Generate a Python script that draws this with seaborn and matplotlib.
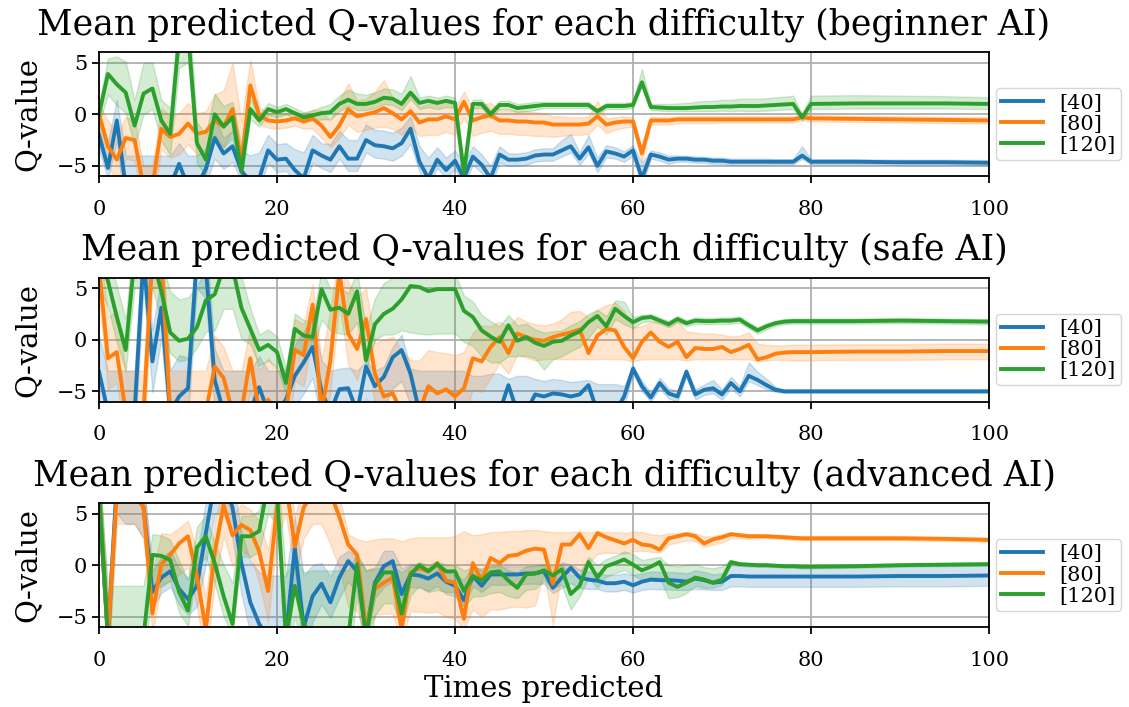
import matplotlib
matplotlib.use("Agg")
import matplotlib.pyplot as plt
import numpy as np
import pandas as pd
import seaborn as sns

# ---------------- data ----------------
X = list(range(0, 81)) + [85, 90, 95, 100]
labels = ["[40]", "[80]", "[120]"]
titles = [
    "Mean predicted Q-values for each difficulty (beginner AI)",
    "Mean predicted Q-values for each difficulty (safe AI)",
    "Mean predicted Q-values for each difficulty (advanced AI)",
]

# ----- beginner -----
b1 = [-2.0, -5.2, -0.6, -7, -7, -7, -7, -7, -7, -4.8,
      -7, -7, -5.3, -2.3, -3.8, -3.1, -5.5, -6.5, -6.2, -3.5,
      -4.4, -4.3, -5.4, -6.2, -3.5, -4.0, -4.4, -3.1, -4.3, -4.3,
      -2.5, -3.0, -3.1, -3.3, -2.8, -1.4, -4.6, -6.2, -4.4, -5.4,
      -4.5, -6.2, -4.1, -4.9, -6.2, -3.9, -4.4, -4.4, -4.3, -4.0,
      -3.9, -3.9, -3.5, -3.1, -4.3, -3.2, -5.0, -3.6, -3.8, -4.1,
      -3.5, -6.2, -3.9, -4.1, -4.4, -4.3, -4.3, -4.4, -4.4, -4.5,
      -4.5, -4.6, -4.6, -4.6, -4.6, -4.6, -4.6, -4.6, -4.6, -4.0,
      -4.6, -4.6, -4.65, -4.65, -4.7]
b1_dn = [1.5, 1.0, 2.0, 3, 3, 3, 3, 3, 3, 1.5,
         3, 3, 1.5, 2.0, 1.5, 1.5, 1.0, 1.0, 1.0, 1.2,
         1.2, 1.2, 1.0, 1.0, 1.2, 1.2, 1.2, 1.2, 1.2, 1.2,
         1.2, 1.2, 1.2, 1.2, 1.2, 1.5, 1.0, 0.8, 0.8, 0.8,
         0.8, 0.8, 0.8, 0.8, 0.8, 0.8, 0.6, 0.6, 0.6, 0.6,
         0.6, 0.6, 0.6, 0.6, 0.6, 0.6, 0.6, 0.6, 0.5, 0.5,
         0.5, 0.8, 0.4, 0.4, 0.4, 0.3, 0.3, 0.3, 0.3, 0.3,
         0.3, 0.3, 0.3, 0.3, 0.3, 0.3, 0.25, 0.25, 0.25, 0.3,
         0.25, 0.25, 0.25, 0.25, 0.25]
b1_up = [2.0, 2.5, 2.0, 3, 3, 3, 3, 3, 3, 2.0,
         3, 3, 2.0, 2.0, 1.5, 1.5, 2.0, 2.5, 2.5, 1.5,
         1.5, 1.5, 2.0, 2.5, 1.5, 1.2, 1.5, 1.5, 1.8, 1.8,
         1.5, 1.5, 1.5, 1.5, 1.5, 1.2, 1.5, 2.0, 1.2, 1.2,
         1.0, 1.5, 1.0, 1.0, 1.2, 0.8, 0.6, 0.6, 0.6, 0.6,
         0.6, 0.6, 1.0, 1.2, 0.6, 1.2, 0.8, 0.6, 0.6, 0.5,
         0.5, 1.5, 0.4, 0.4, 0.4, 0.3, 0.3, 0.3, 0.3, 0.3,
         0.3, 0.3, 0.3, 0.3, 0.3, 0.3, 0.25, 0.25, 0.25, 0.9,
         0.25, 0.25, 0.25, 0.25, 0.25]

o1 = [0.0, -3.1, -4.4, -2.3, -2.5, -7, -7, -1.4, -2.2, -1.9,
      -0.9, -1.9, -1.7, -0.6, -1.2, 0.5, -4.7, 2.8, -0.1, -0.6,
      -0.7, -0.6, -0.4, -0.7, -0.4, -1.1, -2.2, -1.1, 0.5, -0.2,
      0.0, 0.2, 0.6, 0.1, -0.5, 0.3, -0.8, -0.5, -0.5, -0.2,
      -0.5, 1.2, -0.6, -0.3, -0.1, -0.6, -0.6, -0.7, -0.7, -0.8,
      -0.8, -1.0, -1.0, -1.0, -1.0, -0.9, -0.2, -1.0, -0.8, -0.7,
      -0.7, -3.8, -0.6, -0.6, -0.6, -0.5, -0.5, -0.5, -0.5, -0.5,
      -0.5, -0.5, -0.5, -0.5, -0.5, -0.5, -0.5, -0.5, -0.5, -0.3,
      -0.4, -0.45, -0.5, -0.55, -0.6]
o1_dn = [1.5, 2, 2, 2, 2, 2, 2, 2, 2, 2,
         2, 2, 2, 2, 2, 2, 1.5, 1.0, 0.8, 0.7,
         0.7, 0.7, 0.7, 0.7, 1.0, 1.2, 1.0, 1.2, 1.5, 1.5,
         1.5, 1.5, 1.8, 1.5, 1.5, 1.5, 1.3, 1.5, 1.5, 1.5,
         1.5, 1.5, 1.5, 1.5, 1.5, 1.3, 1.3, 1.3, 1.3, 1.3,
         1.3, 1.2, 1.1, 1.0, 1.0, 1.0, 0.8, 0.8, 0.7, 0.6,
         0.5, 0.8, 0.4, 0.4, 0.4, 0.4, 0.35, 0.35, 0.35, 0.35,
         0.3, 0.3, 0.3, 0.3, 0.3, 0.3, 0.3, 0.3, 0.3, 0.3,
         0.3, 0.3, 0.3, 0.3, 0.3]
o1_up = [1.0, 2.5, 2.5, 2.0, 2.0, 2.0, 2.0, 2.0, 2.0, 2.0,
         2.0, 2.0, 2.0, 2.5, 3.5, 4.5, 4.0, 2.5, 0.8, 0.7,
         0.7, 0.7, 0.7, 0.7, 0.8, 1.5, 1.5, 2.5, 2.5, 1.5,
         1.5, 2.0, 2.7, 1.5, 1.5, 1.5, 1.5, 1.5, 1.5, 1.5,
         1.2, 1.0, 1.2, 1.2, 1.2, 1.0, 1.0, 1.0, 1.0, 1.0,
         0.9, 0.8, 0.8, 0.7, 0.7, 0.7, 1.5, 0.6, 0.5, 0.5,
         0.4, 0.5, 0.35, 0.35, 0.35, 0.3, 0.3, 0.3, 0.3, 0.3,
         0.3, 0.3, 0.3, 0.3, 0.3, 0.3, 0.3, 0.3, 0.3, 0.3,
         0.3, 0.3, 0.3, 0.3, 0.3]

g1 = [0.0, 3.9, 2.9, 2.1, -1.1, 2.0, 2.5, -0.6, -1.9, 7.5,
      8, -2.8, -4.4, 0.0, -1.2, -0.3, -5.5, 0.5, -0.6, 0.5,
      0.2, 0.5, 0.1, -0.3, -0.1, 0.1, 0.2, 1.0, 1.4, 1.0,
      1.0, 1.2, 1.6, 1.5, 1.0, 2.1, 1.1, 1.3, 1.1, 1.3,
      1.1, -5.7, 1.0, 1.0, 0.0, 0.9, 0.9, 0.6, 0.7, 0.8,
      0.9, 0.9, 0.9, 0.9, 0.9, 0.9, 0.3, 0.8, 0.8, 0.8,
      0.9, 3.1, 0.7, 0.65, 0.6, 0.6, 0.6, 0.65, 0.7, 0.7,
      0.75, 0.75, 0.8, 0.8, 0.8, 0.85, 0.9, 0.95, 1.0, -0.3,
      1.0, 1.05, 1.05, 1.05, 1.0]
g1_dn = [1.0, 2.0, 2.0, 2.0, 2.0, 2.0, 2.0, 2.0, 2.0, 3,
         3, 2.0, 1.5, 2.0, 2.0, 2.0, 1.0, 1.0, 0.6, 0.6,
         0.5, 0.5, 0.5, 0.5, 0.5, 0.6, 0.7, 0.7, 0.6, 0.6,
         0.6, 0.6, 0.6, 0.6, 0.6, 0.6, 0.6, 0.6, 0.6, 0.6,
         0.5, 1.0, 0.4, 0.4, 0.4, 0.4, 0.4, 0.4, 0.4, 0.4,
         0.3, 0.3, 0.3, 0.3, 0.3, 0.3, 0.2, 0.3, 0.3, 0.3,
         0.3, 0.4, 0.3, 0.3, 0.3, 0.3, 0.3, 0.35, 0.4, 0.4,
         0.4, 0.45, 0.45, 0.5, 0.5, 0.5, 0.5, 0.5, 0.5, 0.3,
         0.5, 0.5, 0.5, 0.5, 0.5]
g1_up = [1.0, 1.5, 2.7, 3.0, 2.5, 3.0, 2.5, 2.0, 2.5, 3,
         3, 2.0, 2.5, 2.0, 2.0, 1.5, 2.5, 1.0, 0.6, 0.6,
         0.5, 0.5, 0.5, 0.5, 0.5, 0.6, 0.8, 0.8, 1.0, 1.0,
         0.9, 0.9, 0.9, 0.9, 1.0, 1.6, 0.5, 0.5, 0.5, 0.5,
         0.5, 1.0, 0.4, 0.4, 0.4, 0.4, 0.4, 0.4, 0.4, 0.4,
         0.3, 0.3, 0.3, 0.3, 0.3, 0.3, 0.2, 0.3, 0.3, 0.3,
         0.3, 1.3, 0.3, 0.35, 0.4, 0.45, 0.5, 0.55, 0.6, 0.6,
         0.65, 0.65, 0.7, 0.7, 0.7, 0.7, 0.75, 0.75, 0.8, 0.3,
         0.8, 0.8, 0.75, 0.7, 0.65]

# ----- safe -----
b2 = [-3.1, -7, -7, -7, -7, 8, -2.1, 3.1, -7, -5.5,
      -4.7, 8, 7, -3.9, -7, -7, -7, -7, -4.6, -7,
      -7, -5.8, -3.5, -2.2, -0.7, -5.0, -7, -4.8, -4.7, -7,
      -2.6, -4.5, -3.6, -1.7, -1.0, -3.3, -7, -7, -7, -7,
      -7, -7, -7, -7, -7, -7, -4.4, -7, -7, -5.3,
      -5.5, -5.2, -5.3, -5.5, -5.3, -4.4, -7, -7, -7, -5.5,
      -2.8, -4.5, -5.6, -4.2, -5.2, -5.5, -3.1, -5.3, -4.85, -4.7,
      -5.3, -4.2, -5.0, -3.5, -3.9, -4.4, -4.85, -5.0, -5.0, -5.0,
      -5.0, -5.0, -5.0, -5.0, -5.0]
b2_dn = [3, 3, 3, 3, 3, 3, 3, 3, 3, 3,
         3, 3, 3, 3, 3, 3, 3, 3, 3, 3,
         3, 3, 3, 3, 3, 3, 3, 3, 3, 3,
         3, 3, 3, 3, 3, 3, 3, 3, 3, 3,
         3, 3, 3, 3, 3, 3, 2, 2, 2, 2,
         1.5, 1.5, 1.5, 1.5, 1.5, 1.5, 1.5, 1.5, 1.5, 1.0,
         0.5, 0.5, 0.4, 0.5, 0.5, 0.5, 0.5, 0.5, 0.5, 0.5,
         0.5, 0.5, 0.5, 0.5, 0.5, 0.4, 0.2, 0.15, 0.15, 0.15,
         0.15, 0.15, 0.15, 0.15, 0.15]
b2_up = [3.5, 4, 4, 4, 4, 3, 3, 3, 4, 4,
         3, 3, 3, 3, 4, 4, 4, 4, 3, 4,
         4, 3, 3, 3, 3, 3, 4, 2, 2, 4,
         0.5, 1.5, 1.0, 1.0, 1.5, 0.5, 4, 4, 4, 4,
         4, 4, 3.5, 3.5, 3.7, 3.7, 0.6, 3.5, 3.5, 1.5,
         1.5, 1.4, 1.4, 1.4, 1.3, 0.5, 2.7, 2.7, 2.7, 1.0,
         0.3, 0.5, 0.5, 0.5, 0.5, 0.5, 0.3, 0.5, 0.5, 0.8,
         0.5, 0.6, 0.5, 1.3, 0.8, 0.6, 0.3, 0.15, 0.15, 0.15,
         0.15, 0.15, 0.15, 0.15, 0.15]

o2 = [7, -1.8, -1.2, -7, -7, -7, 8, 8, -7, -7,
      -7, -7, -7, -2.6, -3.7, -7, -7, -1.8, -7, -5.8,
      -7, -7, -1.0, -1.5, 3.4, -7, -2.0, 6.5, 0.6, -0.9,
      2.0, -3.3, -5.5, -5.2, -7, -7, -7, -4.5, -5.2, -4.8,
      -5.5, -4.7, -1.8, -2.1, -0.7, 0.25, -1.3, 0.6, 0.25, 0.0,
      -0.1, 0.25, 0.5, 0.7, 1.0, -1.3, 0.4, 1.05, 0.9, -0.7,
      -1.8, -0.2, 0.7, -0.2, -0.7, -0.2, -1.7, -0.8, -0.9, -0.9,
      -0.7, -1.2, -0.9, -0.5, -1.9, -1.7, -1.35, -1.25, -1.2, -1.2,
      -1.2, -1.15, -1.15, -1.1, -1.1]
o2_dn = [3, 3, 3, 3, 3, 3, 3, 3, 3, 3,
         3, 3, 3, 3, 3, 3, 3, 3, 3, 3,
         3, 3, 3, 3, 3, 3, 3, 3, 3, 3,
         3, 3, 3, 3, 3, 3, 3, 3, 3, 3,
         3, 3, 3, 3, 3, 2.5, 2.0, 2.0, 2.0, 2.0,
         1.8, 2.1, 2.4, 2.6, 2.9, 0.6, 2.3, 2.9, 2.8, 1.2,
         0.3, 1.7, 2.6, 1.7, 1.2, 1.7, 0.3, 1.1, 1.0, 1.0,
         1.2, 0.7, 1.0, 1.4, 0.2, 0.3, 0.6, 0.7, 0.8, 0.8,
         0.8, 0.8, 0.8, 0.8, 0.8]
o2_up = [3, 4, 4, 4, 4, 4, 3, 3, 4, 4,
         4, 4, 4, 3, 3, 4, 4, 3, 4, 4,
         4, 4, 3, 3, 2, 5, 5, 2, 5, 5,
         3, 3, 5.5, 5.5, 6, 5, 5, 3.5, 4, 3.5,
         4, 3.5, 2.5, 3.5, 2.0, 1.5, 2.5, 1.6, 1.5, 1.5,
         1.5, 1.3, 1.5, 2.0, 1.8, 3.5, 2.5, 2.3, 2.7, 3.5,
         3.0, 1.5, 1.0, 2.0, 2.0, 2.0, 2.5, 1.5, 1.5, 1.5,
         1.2, 1.5, 1.3, 1.2, 1.5, 1.2, 0.8, 0.7, 0.7, 0.7,
         0.7, 0.7, 0.7, 0.7, 0.7]

g2 = [8, 5.7, 2.2, -1.0, 8, 8, 8, 4.7, 0.7, -0.1,
      0.1, 1.2, 3.8, 4.4, 7, 7, 3.1, 1.05, -1.0, -0.5,
      -1.2, -4.2, 1.05, 0.4, 0.25, 4.9, 2.9, 3.1, 2.5, 4.7,
      -2.0, 1.5, 2.5, 3.0, 3.9, 5.2, 5.1, 4.7, 4.9, 4.9,
      4.9, 2.8, 2.2, 0.9, 0.3, -0.2, 1.4, -0.1, 0.25, -0.3,
      -0.6, -0.2, -0.1, 0.4, 0.8, 1.7, 2.3, 1.3, 3.0, 2.3,
      1.7, 2.1, 2.2, 1.85, 1.5, 2.0, 1.6, 1.85, 1.8, 1.8,
      1.85, 1.85, 1.95, 1.4, 0.9, 1.3, 1.6, 1.75, 1.8, 1.8,
      1.8, 1.8, 1.85, 1.8, 1.75]
g2_dn = [3, 2.5, 2.5, 2.0, 3, 3, 3, 3, 2.0, 2.0,
         2.0, 2.0, 3.0, 3.5, 4, 4, 3.0, 1.5, 1.5, 1.5,
         1.5, 1.0, 2.0, 1.5, 1.5, 3.0, 2.0, 2.5, 2.0, 3.0,
         1.0, 1.5, 2.0, 2.5, 3.0, 4.5, 4.5, 4.2, 4.3, 4.3,
         4.3, 3.0, 2.8, 2.5, 2.5, 2.0, 3.0, 1.5, 1.8, 1.5,
         2.3, 1.7, 1.5, 1.5, 1.5, 1.5, 1.0, 0.8, 1.0, 0.8,
         0.6, 0.4, 0.4, 0.3, 0.3, 0.3, 0.3, 0.3, 0.3, 0.3,
         0.3, 0.3, 0.3, 0.3, 0.3, 0.3, 0.25, 0.25, 0.25, 0.25,
         0.25, 0.25, 0.25, 0.25, 0.25]
g2_up = [3, 3, 3, 3, 3, 3, 3, 3, 4, 4,
         4, 4, 3, 3, 3, 3, 3, 2.0, 1.5, 1.5,
         1.5, 1.5, 1.5, 1.5, 1.5, 2.0, 2.0, 2.0, 2.0, 2.0,
         3.0, 2.5, 3.0, 3.0, 2.5, 1.5, 1.5, 1.5, 1.5, 1.5,
         1.5, 1.5, 1.5, 1.5, 1.5, 1.5, 1.0, 1.5, 1.3, 1.3,
         1.3, 1.0, 1.0, 1.0, 1.0, 0.8, 0.6, 1.0, 0.8, 1.4,
         0.5, 0.3, 0.3, 0.3, 0.3, 0.3, 0.3, 0.3, 0.3, 0.3,
         0.3, 0.3, 0.3, 0.3, 0.3, 0.3, 0.25, 0.25, 0.25, 0.25,
         0.25, 0.25, 0.25, 0.25, 0.25]

# ----- advanced -----
b3 = [7, -7, 8, 7, 7, 5.6, -2.6, -1.2, -0.6, -2.3,
      -3.3, -2.0, 3.1, 8, 8, 5.6, 0.2, -3.6, -5.7, -7,
      -7, -7, 1.7, -6.0, -3.0, -1.8, -3.6, -1.2, 0.4, -0.6,
      -6.5, -1.7, -0.1, 0.4, -2.8, -0.9, -1.0, -1.3, -0.8, -1.6,
      -2.0, -3.4, -1.05, -2.0, -0.9, -0.9, -0.9, -0.9, -0.8, -0.8,
      -0.6, -2.2, -1.2, -0.25, -1.2, -1.4, -1.5, -1.75, -1.75, -1.6,
      -1.95, -1.6, -1.4, -1.45, -1.45, -1.5, -1.6, -1.3, -1.45, -1.7,
      -1.6, -1.05, -1.05, -1.1, -1.1, -1.1, -1.1, -1.1, -1.1, -1.1,
      -1.1, -1.1, -1.05, -1.05, -1.0]
b3_dn = [3, 3, 3, 3, 3, 3, 1.5, 1.5, 1.5, 1.5,
         1.5, 2.0, 3, 3, 3, 3, 3, 3, 3, 3,
         3, 3, 3, 3, 2.5, 2.0, 1.5, 2.0, 2.0, 2.0,
         1.0, 1.5, 2.0, 2.0, 1.0, 1.2, 1.2, 1.2, 1.2, 1.2,
         1.0, 0.6, 1.0, 0.6, 1.0, 1.0, 1.0, 1.0, 1.0, 1.0,
         1.2, 0.5, 1.0, 1.5, 1.0, 0.9, 0.8, 0.8, 0.8, 0.8,
         0.7, 0.8, 0.9, 0.9, 0.9, 0.9, 0.8, 1.0, 0.9, 0.7,
         0.8, 1.0, 1.0, 1.0, 1.0, 1.0, 1.0, 1.0, 1.0, 1.0,
         1.0, 1.0, 1.0, 1.0, 1.0]
b3_up = [3, 3, 3, 3, 3, 3, 2.0, 2.0, 2.0, 2.0,
         2.0, 3.0, 3, 3, 3, 3, 3, 4, 5, 6,
         6, 6, 3, 5, 3, 2.0, 2.5, 2.0, 1.0, 1.5,
         6, 1.5, 1.5, 1.0, 2.5, 1.0, 1.0, 1.0, 1.0, 1.0,
         1.0, 2.0, 1.0, 1.5, 0.8, 0.8, 0.8, 0.8, 0.7, 0.7,
         0.6, 1.5, 1.5, 0.3, 0.8, 0.8, 0.8, 0.8, 0.8, 0.8,
         1.0, 0.8, 0.8, 0.8, 0.8, 0.8, 0.8, 0.8, 0.8, 0.8,
         0.8, 1.0, 1.0, 1.0, 1.0, 1.0, 1.0, 1.0, 1.0, 1.0,
         1.0, 1.0, 1.0, 1.0, 1.0]

o3 = [7, -7, 7, 7, 7, 5.6, -4.7, 0.1, 1.0, 2.1,
      2.8, -1.05, -6.2, 1.2, 5.8, 2.9, 3.9, 3.4, 1.3, -2.5,
      5.6, 8, 1.8, 5.6, 7, 7, 7, 4.7, 2.0, 1.0,
      -6.2, -2.3, -1.7, -1.2, -6.2, -0.7, -0.3, -0.6, 0.2, -1.5,
      -1.7, -5.2, 0.2, -1.5, 0.7, 0.2, 0.9, 1.0, 1.4, 1.6,
      1.5, -1.8, 2.0, 2.0, 3.0, 1.65, 3.1, 2.7, 2.4, 2.1,
      2.45, 2.0, 1.9, 1.5, 2.6, 2.8, 3.0, 2.8, 2.1, 2.5,
      2.7, 3.0, 2.9, 2.8, 2.8, 2.8, 2.75, 2.7, 2.65, 2.6,
      2.6, 2.6, 2.6, 2.55, 2.45]
o3_dn = [3, 3, 3, 3, 3, 3, 2, 2, 2.5, 3,
         3, 3, 3, 3, 3, 3, 2.5, 2.5, 3, 3,
         3, 3, 3, 3, 3, 3, 5, 5, 6, 5.5,
         1.0, 2.5, 3.0, 3.5, 1.0, 3.8, 4.2, 4.0, 4.7, 3.5,
         3.5, 1.0, 4.5, 3.5, 5.0, 4.5, 5.0, 5.0, 5.5, 5.5,
         2.2, 4.0, 2.7, 2.7, 3.5, 1.5, 2.0, 1.5, 1.2, 1.0,
         1.1, 0.6, 0.6, 0.3, 0.6, 0.6, 0.6, 0.5, 0.3, 0.5,
         0.5, 0.4, 0.3, 0.25, 0.2, 0.2, 0.2, 0.2, 0.2, 0.2,
         0.2, 0.2, 0.2, 0.2, 0.2]
o3_up = [3, 3, 3, 3, 3, 2.5, 4, 3, 2, 1.5,
         1.5, 2.5, 3, 3, 2, 2, 2, 2, 3, 4,
         2, 2, 3, 2, 2, 2, 2, 2, 1.0, 1.5,
         8.5, 4.8, 4.3, 3.8, 8.5, 3.3, 3.0, 3.3, 2.5, 4.2,
         4.5, 8.5, 2.7, 4.5, 2.5, 3.0, 2.4, 2.3, 2.0, 1.8,
         1.8, 5.0, 1.2, 1.2, 0.3, 1.5, 0.2, 0.5, 0.8, 1.0,
         0.8, 1.2, 1.1, 1.4, 0.5, 0.3, 0.2, 0.3, 0.7, 0.3,
         0.3, 0.2, 0.2, 0.2, 0.2, 0.2, 0.2, 0.2, 0.2, 0.2,
         0.2, 0.2, 0.2, 0.2, 0.2]

g3 = [7, -7, -7, -7, -7, -7, 1.0, 0.9, 0.5, -2.6,
      -4.4, 1.7, 2.8, 0.2, -3.0, -5.7, 2.8, 2.8, 3.3, 8,
      7, -7, -2.0, -5.7, -7, -7, -7, -7, -7, 0.1,
      -7, -1.85, -0.7, -0.7, -4.7, -0.9, 0.0, -0.6, 0.1, -0.6,
      -0.6, -2.5, -1.05, -1.5, -0.7, -0.6, -1.5, -2.2, -0.9, -0.8,
      -0.5, -1.0, -0.4, -2.8, -2.0, 0.3, -1.2, -0.1, 0.2, 0.55,
      0.05, -0.5, -0.15, 0.3, -1.7, -2.1, -1.7, -1.2, -1.4, -1.7,
      -1.4, 0.3, 0.1, 0.05, 0.0, 0.0, -0.05, -0.1, -0.1, -0.15,
      -0.15, -0.1, 0.0, 0.05, 0.1]
g3_dn = [3, 3, 3, 3, 3, 3, 3, 3, 2, 2,
         1.5, 2, 2, 2, 2, 1, 2, 2, 2, 3,
         3, 3, 3, 3, 3, 3, 3, 3, 3, 3,
         3, 3, 3, 3, 1.5, 2.0, 2.0, 2.0, 2.5, 2.0,
         2.0, 1.5, 2.0, 1.5, 2.0, 2.0, 1.5, 1.0, 1.5, 1.5,
         1.0, 1.2, 1.5, 1.5, 1.0, 1.5, 1.0, 1.0, 1.0, 1.0,
         1.0, 1.0, 1.0, 1.5, 1.5, 1.0, 1.0, 0.8, 0.8, 0.5,
         0.5, 0.2, 0.15, 0.15, 0.15, 0.15, 0.15, 0.15, 0.15, 0.15,
         0.15, 0.15, 0.15, 0.15, 0.15]
g3_up = [3, 5, 5, 5, 5, 5, 2, 2, 2, 3,
         3, 2, 2, 2, 3, 4, 2, 2, 2, 3,
         3, 6, 3, 5, 6.5, 6.5, 6.5, 6.5, 6.5, 1.0,
         6.5, 1.5, 0.6, 0.6, 4.0, 0.8, 0.3, 0.6, 0.3, 0.6,
         0.6, 2.0, 0.8, 1.2, 0.6, 0.6, 1.0, 1.5, 0.8, 0.8,
         0.6, 0.9, 0.5, 1.8, 1.2, 0.5, 1.2, 0.7, 0.7, 0.8,
         1.0, 1.0, 0.8, 0.5, 1.7, 2.0, 1.7, 1.3, 1.2, 1.4,
         1.3, 0.2, 0.15, 0.15, 0.15, 0.15, 0.15, 0.15, 0.15, 0.15,
         0.15, 0.15, 0.15, 0.15, 0.15]

panels = [
    [(b1, b1_dn, b1_up), (o1, o1_dn, o1_up), (g1, g1_dn, g1_up)],
    [(b2, b2_dn, b2_up), (o2, o2_dn, o2_up), (g2, g2_dn, g2_up)],
    [(b3, b3_dn, b3_up), (o3, o3_dn, o3_up), (g3, g3_dn, g3_up)],
]

# ---------------- plot ----------------
plt.rcParams["font.family"] = ["DejaVu Serif"]
plt.rcParams["axes.linewidth"] = 1.3

fig, axes = plt.subplots(3, 1, figsize=(11.29, 7.07), dpi=100)
fig.subplots_adjust(left=0.0877, right=0.876, top=0.926, bottom=0.113, hspace=0.82)

palette = ["#1f77b4", "#ff7f0e", "#2ca02c"]

for ax, title, series in zip(axes, titles, panels):
    rows = []
    for lab, (m, dn, up) in zip(labels, series):
        for x, v, d, u in zip(X, m, dn, up):
            rows.append((x, lab, v - d))
            rows.append((x, lab, v))
            rows.append((x, lab, v + u))
    df = pd.DataFrame(rows, columns=["x", "difficulty", "q"])
    sns.lineplot(data=df, x="x", y="q", hue="difficulty", hue_order=labels,
                 estimator="median", errorbar=("pi", 100), palette=palette,
                 linewidth=2.8, ax=ax)
    ax.set_xlim(0, 100)
    ax.set_ylim(-6, 6)
    ax.set_xticks([0, 20, 40, 60, 80, 100])
    ax.set_yticks([-5, 0, 5])
    ax.grid(True, color="#b0b0b0", linewidth=1.3)
    ax.set_axisbelow(True)
    ax.tick_params(labelsize=15, width=1.3, length=5)
    ax.tick_params(axis="x", pad=12)
    ax.set_title(title, fontsize=25, pad=13)
    ax.set_ylabel("Q-value", fontsize=21, labelpad=11)
    ax.set_xlabel("")
    sns.move_legend(ax, "center left", bbox_to_anchor=(0.996, 0.42),
                    title=None, fontsize=15, frameon=True,
                    labelspacing=0.1, borderpad=0.25)

axes[-1].set_xlabel("Times predicted", fontsize=21, labelpad=4)

fig.savefig("out.png", dpi=100)
